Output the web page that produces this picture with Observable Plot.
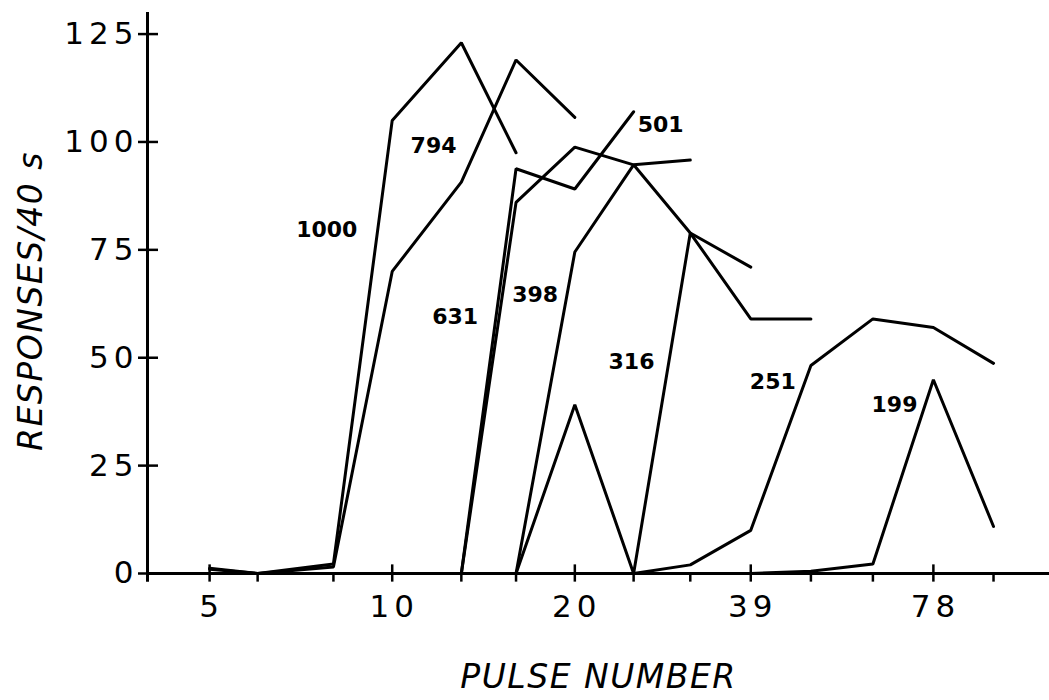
<!DOCTYPE html>
<html><head><meta charset="utf-8">
<script src="https://cdn.jsdelivr.net/npm/d3@7"></script>
<script src="https://cdn.jsdelivr.net/npm/@observablehq/plot@0.6"></script>
<style>
html,body{margin:0;padding:0;background:#fff;}
#chart svg{display:block;}
g[font-size="31"]{letter-spacing:5px;}
g[font-size="33"]{letter-spacing:1.5px;}
</style></head><body><div id="chart"></div>
<script>
// Pulse numbers (log-spaced x positions)
const xTickValues = [5, 10, 20, 39, 78];
const xTickLabels = ["5", "10", "20", "39", "78"];
const xMinorTicks = [6, 8, 13, 16, 25, 31, 49, 62, 98];
const yTickValues = [0, 25, 50, 75, 100, 125];

// Series (label = stimulus level), pulse numbers and responses/40 s
const seriesNames = ["1000", "794", "631", "501", "398", "316", "251", "199"];
const pulses1000 = [5, 6, 8, 10, 13, 16];
const resp1000   = [1.2, 0, 2.2, 105, 123, 97.5];
const pulses794  = [5, 6, 8, 10, 13, 16, 20];
const resp794    = [1, 0, 1.5, 70, 90.7, 119, 105.7];
const pulses631  = [10, 13, 16, 20, 25];
const resp631    = [0, 0, 93.8, 89.1, 107];
const pulses501  = [10, 13, 16, 20, 25, 31];
const resp501    = [0, 0, 86, 98.8, 94.7, 95.8];
const pulses398  = [13, 16, 20, 25, 31, 39];
const resp398    = [0, 0, 74.5, 94.7, 78.9, 71];
const pulses316  = [13, 16, 20, 25, 31, 39, 49];
const resp316    = [0, 0, 39.1, 0, 78.9, 59, 59];
const pulses251  = [20, 25, 31, 39, 49, 62, 78, 98];
const resp251    = [0, 0, 2, 10, 48.2, 59, 57, 48.7];
const pulses199  = [31, 39, 49, 62, 78, 98];
const resp199    = [0, 0, 0.5, 2.2, 44.9, 10.9];

// Curve label anchors (pulse number, responses)
const labelPulse    = [7.8, 11.7, 12.7, 27.7, 17.2, 24.8, 42.4, 67.3];
const labelResponse = [79.5, 99, 59.5, 104, 64.6, 49, 44.3, 39];

const xDomain = [3.95, 121.2];
const yDomain = [0, 130];

const allPulses = [pulses1000, pulses794, pulses631, pulses501, pulses398, pulses316, pulses251, pulses199];
const allResp = [resp1000, resp794, resp631, resp501, resp398, resp316, resp251, resp199];
const rows = [];
seriesNames.forEach((name, i) => {
  allPulses[i].forEach((p, j) => rows.push({series: name, pulse: p, resp: allResp[i][j]}));
});
const labels = seriesNames.map((name, i) => ({name, pulse: labelPulse[i], resp: labelResponse[i]}));

const chart = Plot.plot({
  width: 1049,
  height: 700,
  marginLeft: 147,
  marginRight: 0,
  marginTop: 12,
  marginBottom: 127,
  style: {background: "#fff", color: "#000"},
  x: {type: "log", domain: xDomain, axis: null},
  y: {domain: yDomain, axis: null},
  marks: [
    Plot.ruleY([0], {stroke: "#000", strokeWidth: 3}),
    Plot.ruleX([xDomain[0]], {y1: -2, y2: 130, stroke: "#000", strokeWidth: 3}),
    Plot.ruleX(xTickValues, {y1: -2, y2: 2, stroke: "#000", strokeWidth: 2.5}),
    Plot.ruleX(xMinorTicks, {y1: -2, y2: 0, stroke: "#000", strokeWidth: 2.5}),
    Plot.ruleY(yTickValues, {insetLeft: -9, insetRight: 891, stroke: "#000", strokeWidth: 2.5}),
    Plot.line(rows, {x: "pulse", y: "resp", z: "series", stroke: "#000", strokeWidth: 3, strokeLinejoin: "miter"}),
    Plot.text(xTickValues, {x: d => d, y: 0, text: (d, i) => xTickLabels[i], dy: 34, dx: 2,
      fontSize: 31, fontFamily: "DejaVu Sans", fill: "#000"}),
    Plot.text(yTickValues, {x: xDomain[0], y: d => d, text: d => String(d), textAnchor: "end", dx: -9,
      fontSize: 31, fontFamily: "DejaVu Sans", fill: "#000"}),
    Plot.text(labels, {x: "pulse", y: "resp", text: "name", fontSize: 22, fontWeight: "bold",
      fontFamily: "DejaVu Sans", fill: "#000"}),
    Plot.text(["PULSE NUMBER"], {frameAnchor: "bottom", dy: 114, text: d => d, fontSize: 33,
      textAnchor: "middle", fontStyle: "italic", fontFamily: "DejaVu Sans", fill: "#000"}),
    Plot.text(["RESPONSES/40 s"], {frameAnchor: "left", dx: -116, dy: 8, rotate: -90, text: d => d, fontSize: 33,
      textAnchor: "middle", fontStyle: "italic", fontFamily: "DejaVu Sans", fill: "#000"})
  ]
});
document.getElementById("chart").appendChild(chart);
</script></body></html>
